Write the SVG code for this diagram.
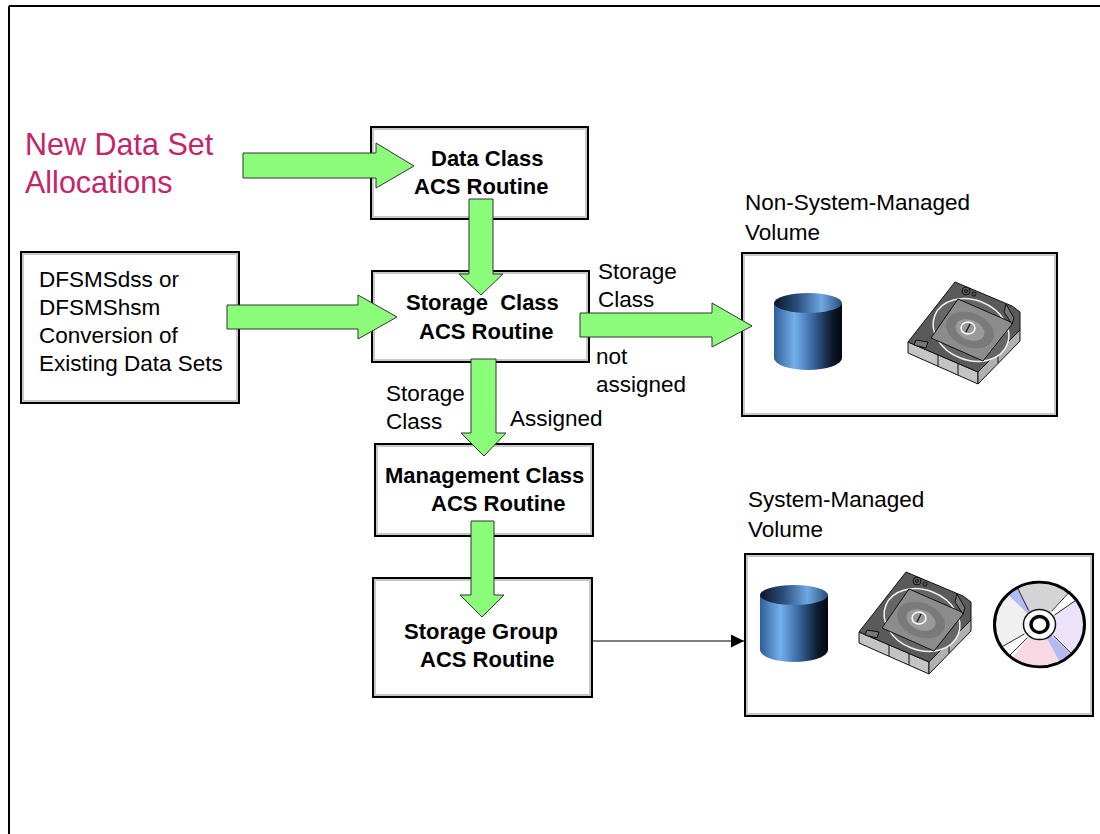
<svg xmlns="http://www.w3.org/2000/svg" width="1100" height="834" viewBox="0 0 1100 834">
  <style>
    .box { fill: #ffffff; stroke: #000000; stroke-width: 2; }
    .boxin { fill: none; stroke: #c8c8c8; stroke-width: 2; }
    .bold { font-family: "Liberation Sans", Arial, sans-serif; font-size: 22px; font-weight: bold; fill: #000; }
    .txt { font-family: "Liberation Sans", Arial, sans-serif; font-size: 22.5px; fill: #000; }
    .title { font-family: "Liberation Sans", Arial, sans-serif; font-size: 30.5px; fill: #c42468; }
    .flow { fill: #8cfc7b; stroke: #333333; stroke-width: 1; }
    .edge { fill: none; stroke: #000; stroke-width: 1.2; }
  </style>
  <defs>
    <linearGradient id="cylBody" x1="0" y1="0" x2="1" y2="0">
      <stop offset="0" stop-color="#2f5e98"/>
      <stop offset="0.3" stop-color="#74b0ec"/>
      <stop offset="0.55" stop-color="#3d6ca6"/>
      <stop offset="0.85" stop-color="#0d1a2e"/>
      <stop offset="1" stop-color="#03070e"/>
    </linearGradient>
    <linearGradient id="cylTop" x1="0" y1="0" x2="1" y2="0">
      <stop offset="0" stop-color="#0c1626"/>
      <stop offset="0.35" stop-color="#2c4f7e"/>
      <stop offset="0.7" stop-color="#6ea8e4"/>
      <stop offset="1" stop-color="#2a4c78"/>
    </linearGradient>
    <marker id="arrowHead" viewBox="0 0 10 10" refX="10" refY="5" markerWidth="20" markerHeight="13" markerUnits="userSpaceOnUse" orient="auto">
      <path d="M0,0 L10,5 L0,10 Z" fill="#000"/>
    </marker>
    <!-- disk drive cylinder -->
    <g id="cylinder">
      <path d="M0,10 L0,65 A34,12 0 0,0 68,65 L68,10 Z" fill="url(#cylBody)"/>
      <ellipse cx="34" cy="10" rx="34" ry="10" fill="url(#cylTop)"/>
    </g>
    <!-- tape / optical cartridge -->
    <g id="cartridge" stroke="#111" stroke-width="1" stroke-linejoin="round">
      <path d="M0,60 L70,90 L70,102 L0,71 Z" fill="#c4c4c4"/>
      <path d="M70,90 L112,48 L112,59 L70,102 Z" fill="#b0b0b0"/>
      <line x1="30" y1="73" x2="30" y2="84"/>
      <line x1="50" y1="82" x2="50" y2="93"/>
      <line x1="90" y1="70" x2="90" y2="81"/>
      <path d="M47,0 L104,24 L112,30 L112,48 L70,90 L0,60 Z" fill="#5a5a5a"/>
      <ellipse cx="63" cy="48" rx="39" ry="30" transform="rotate(22 63 48)" fill="#666" stroke="#f0f0f0" stroke-width="1.5"/>
      <path d="M50,17 L105,41 L75,79 L23,56 Z" fill="#8c8c8c"/>
      <ellipse cx="62" cy="48" rx="25" ry="17" transform="rotate(22 62 48)" fill="#7a7a7a" stroke="none"/>
      <ellipse cx="62" cy="48" rx="15" ry="10" transform="rotate(22 62 48)" fill="#9a9a9a" stroke="none"/>
      <ellipse cx="60" cy="46" rx="7" ry="6" fill="none" stroke="#ffffff" stroke-width="1.5"/>
      <line x1="58" y1="50" x2="62" y2="42" stroke="#222" stroke-width="1.5"/>
      <circle cx="58" cy="9" r="4" fill="none"/>
      <circle cx="58" cy="9" r="1.5" fill="none"/>
      <circle cx="66" cy="12" r="2" fill="none"/>
      <path d="M98,22 L106,36 L104,42 L96,30 Z" fill="#777"/>
      <path d="M8,58 L20,60 L18,66 L6,63 Z" fill="#777"/>
    </g>
  </defs>

  <!-- page frame -->
  <g id="frame" stroke="#000" stroke-width="2">
    <line x1="9" y1="6" x2="1100" y2="6"/>
    <line x1="9" y1="6" x2="9" y2="834"/>
  </g>

  <g id="new-allocations">
    <text class="title" x="25" y="155">New Data Set</text>
    <text class="title" x="25" y="193">Allocations</text>
  </g>

  <g id="data-class">
    <rect class="box" x="371" y="127" width="217" height="92"/>
    <rect class="boxin" x="373" y="129" width="213" height="88"/>
    <text class="bold" x="431" y="166">Data Class</text>
    <text class="bold" x="414" y="194">ACS Routine</text>
  </g>

  <g id="conversion">
    <rect class="box" x="21" y="252" width="218" height="151"/>
    <rect class="boxin" x="23" y="254" width="214" height="147"/>
    <text class="txt" x="39" y="287">DFSMSdss or</text>
    <text class="txt" x="39" y="315">DFSMShsm</text>
    <text class="txt" x="39" y="343">Conversion of</text>
    <text class="txt" x="39" y="371">Existing Data Sets</text>
  </g>

  <g id="storage-class">
    <rect class="box" x="372" y="271" width="217" height="91"/>
    <rect class="boxin" x="374" y="273" width="213" height="87"/>
    <text class="bold" x="406" y="310" xml:space="preserve">Storage  Class</text>
    <text class="bold" x="419" y="339">ACS Routine</text>
  </g>

  <g id="management-class">
    <rect class="box" x="375" y="444" width="218" height="92"/>
    <rect class="boxin" x="377" y="446" width="214" height="88"/>
    <text class="bold" x="385" y="483">Management Class</text>
    <text class="bold" x="431" y="511">ACS Routine</text>
  </g>

  <g id="storage-group">
    <rect class="box" x="373" y="578" width="219" height="119"/>
    <rect class="boxin" x="375" y="580" width="215" height="115"/>
    <text class="bold" x="404" y="639">Storage Group</text>
    <text class="bold" x="420" y="667">ACS Routine</text>
  </g>

  <g id="non-sms-volume">
    <text class="txt" x="745" y="210">Non-System-Managed</text>
    <text class="txt" x="745" y="240">Volume</text>
    <rect class="box" x="742" y="253" width="315" height="163"/>
    <rect class="boxin" x="744" y="255" width="311" height="159"/>
    <use href="#cylinder" x="774" y="293"/>
    <use href="#cartridge" x="908" y="282"/>
  </g>

  <g id="sms-volume">
    <text class="txt" x="748" y="507">System-Managed</text>
    <text class="txt" x="748" y="537">Volume</text>
    <rect class="box" x="745" y="554" width="348" height="162"/>
    <rect class="boxin" x="747" y="556" width="344" height="158"/>
    <use href="#cylinder" x="760" y="585"/>
    <use href="#cartridge" x="859" y="572"/>
    <!-- optical disc -->
    <g transform="translate(1039.5 624.5) scale(1 0.94)">
      <circle r="45" fill="#f0f0f0"/>
      <path d="M0,0 L20.7,40.8 A45,45 0 0,1 -27.7,35.5 Z" fill="#f8d8e2"/>
      <path d="M0,0 L-27.7,35.5 A45,45 0 0,1 -38.2,23.8 Z" fill="#ffffff"/>
      <path d="M0,0 L-31.8,-31.8 A45,45 0 0,1 -22.5,-39 Z" fill="#b4baf2"/>
      <path d="M0,0 L-22.5,-39 A45,45 0 0,1 28.9,-34.5 Z" fill="#d4d4d4"/>
      <path d="M0,0 L28.9,-34.5 A45,45 0 0,1 36.9,-25.8 Z" fill="#ffffff"/>
      <path d="M0,0 L36.9,-25.8 A45,45 0 0,1 31.8,31.8 Z" fill="#ece2fa"/>
      <path d="M0,0 L31.8,31.8 A45,45 0 0,1 20.7,40.8 Z" fill="#b4baf2"/>
      <g stroke="#222" stroke-width="1">
        <line x1="12" y1="-14" x2="31" y2="-36"/>
        <line x1="15" y1="-10" x2="38" y2="-27"/>
        <line x1="-12" y1="14" x2="-30" y2="33"/>
        <line x1="-15" y1="10" x2="-38" y2="24"/>
        <line x1="-11" y1="-15" x2="-22" y2="-39"/>
        <line x1="14" y1="12" x2="32" y2="31"/>
      </g>
      <circle r="45" fill="none" stroke="#000" stroke-width="3"/>
      <circle r="16" fill="#ffffff" stroke="#111" stroke-width="1.5"/>
      <circle r="8.5" fill="#ffffff" stroke="#000" stroke-width="3.5"/>
    </g>
  </g>

  <g id="edge-labels">
    <text class="txt" x="598" y="279">Storage</text>
    <text class="txt" x="598" y="307">Class</text>
    <text class="txt" x="596" y="364">not</text>
    <text class="txt" x="596" y="392">assigned</text>
    <text class="txt" x="386" y="401">Storage</text>
    <text class="txt" x="386" y="429">Class</text>
    <text class="txt" x="510" y="426">Assigned</text>
  </g>

  <g id="connectors">
    <polygon class="flow" points="243,153 376,153 376,143 414,166 376,188 376,178 243,178"/>
    <polygon class="flow" points="469,199 493,199 493,274 503,274 481,295 459,274 469,274"/>
    <polygon class="flow" points="227,305 358,305 358,295 397,317 358,339 358,329 227,329"/>
    <polygon class="flow" points="580,313 712,313 712,303 752,326 712,347 712,337 580,337"/>
    <polygon class="flow" points="471,359 496,359 496,433 506,433 484,456 461,433 471,433"/>
    <polygon class="flow" points="471,521 494,521 494,595 504,595 482,617 460,595 471,595"/>
    <line class="edge" x1="592" y1="641" x2="744" y2="641" marker-end="url(#arrowHead)"/>
  </g>
</svg>
